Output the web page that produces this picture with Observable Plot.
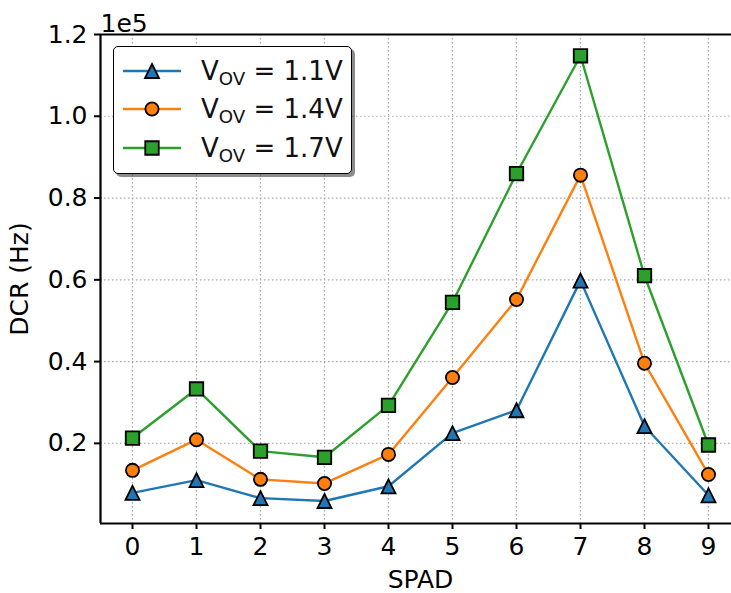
<!DOCTYPE html>
<html>
<head>
<meta charset="utf-8">
<script src="https://cdn.jsdelivr.net/npm/d3@7"></script>
<script src="https://cdn.jsdelivr.net/npm/@observablehq/plot@0.6"></script>
<style>
  html, body { margin: 0; padding: 0; background: #fff; overflow: hidden; }
  #wrap { position: relative; width: 731px; height: 593px; overflow: hidden; font-family: "DejaVu Sans", sans-serif; }
  #legend {
    position: absolute; left: 113px; top: 46px; width: 239px; height: 128px;
    box-sizing: border-box; border: 1.6px solid #000; border-radius: 5px;
    background: #fff; box-shadow: 3px 3px 0 rgba(0,0,0,0.45);
  }
  .row { position: absolute; left: 9px; height: 30px; display: flex; align-items: center; }
  .row svg { display: block; }
  .row span { margin-left: 20px; font-size: 26px; color: #111; white-space: pre; line-height: 30px; }
  .row sub { font-size: 0.7em; vertical-align: -0.3em; line-height: 0; }
</style>
</head>
<body>
<div id="wrap"><div id="legend"></div></div>
<script>
// SPAD index along the x axis
const spad = [0, 1, 2, 3, 4, 5, 6, 7, 8, 9];

// Dark count rate per SPAD, in units of 1e5 Hz
const dcr11 = [0.079, 0.110, 0.066, 0.059, 0.095, 0.225, 0.281, 0.598, 0.242, 0.073];
const dcr14 = [0.134, 0.209, 0.112, 0.102, 0.173, 0.361, 0.552, 0.856, 0.396, 0.124];
const dcr17 = [0.213, 0.333, 0.181, 0.166, 0.293, 0.545, 0.860, 1.148, 0.610, 0.196];

// Excess bias voltage of each series
const overdrive = ["1.1V", "1.4V", "1.7V"];
const colors = ["#1f77b4", "#ff7f0e", "#2ca02c"];

// Tick values
const yTicks = [0.2, 0.4, 0.6, 0.8, 1.0, 1.2];
const xTicks = spad;

// Triangle whose bounding box is centred on the point (width = height)
const triangleUp = {
  draw(context, size) {
    const h = Math.sqrt(size / Math.PI);
    context.moveTo(0, -h);
    context.lineTo(h, h);
    context.lineTo(-h, h);
    context.closePath();
  }
};
const symbols = [triangleUp, "circle", "square"];
const radii = [7.0, 6.6, 7.6];

const seriesValues = [dcr11, dcr14, dcr17];
const series = seriesValues.map((vals, k) =>
  spad.map((s, i) => ({spad: s, dcr: vals[i], k}))
);

const yDomain = [0.004, 1.2];
const xDomain = [-0.5, 9.5];

const marks = [
  Plot.gridX(xTicks, {stroke: "#aaa", strokeOpacity: 1, strokeWidth: 1.2, strokeDasharray: "1.5,2.5"}),
  Plot.gridY(yTicks, {stroke: "#aaa", strokeOpacity: 1, strokeWidth: 1.2, strokeDasharray: "1.5,2.5"})
];

series.forEach((data, k) => {
  marks.push(Plot.line(data, {x: "spad", y: "dcr", stroke: colors[k], strokeWidth: 2.4}));
  marks.push(Plot.dot(data, {
    x: "spad", y: "dcr", symbol: symbols[k], r: radii[k],
    fill: colors[k], fillOpacity: 1, stroke: "#000", strokeWidth: 1.8
  }));
});

marks.push(
  Plot.ruleX([xDomain[0]], {stroke: "#000", strokeWidth: 2.2}),
  Plot.ruleY([yDomain[0]], {stroke: "#000", strokeWidth: 2.2}),
  Plot.ruleY([yDomain[1]], {stroke: "#000", strokeWidth: 2.2}),
  Plot.axisX(xTicks, {
    tickSize: 6, tickPadding: 8, strokeWidth: 2, fontSize: 25,
    tickFormat: d => String(d),
    label: "SPAD", labelAnchor: "center", labelOffset: 64, labelArrow: "none"
  }),
  Plot.axisY(yTicks, {
    tickSize: 6, tickPadding: 7, strokeWidth: 2, fontSize: 25,
    tickFormat: d => d.toFixed(1),
    label: "DCR (Hz)", labelAnchor: "center", labelOffset: 90, labelArrow: "none"
  }),
  Plot.text(["1e5"], {
    frameAnchor: "top-left", text: d => d, textAnchor: "start",
    lineAnchor: "bottom", dy: -3, fontSize: 25, fill: "#000"
  })
);

const chart = Plot.plot({
  width: 731,
  height: 593,
  marginLeft: 100,
  marginRight: -9,
  marginTop: 34,
  marginBottom: 70,
  x: {domain: xDomain},
  y: {domain: yDomain},
  style: {fontFamily: "DejaVu Sans, sans-serif", fontSize: "25px", color: "#000", background: "#fff", overflow: "hidden"},
  marks
});
document.getElementById("wrap").prepend(chart);

// Legend
const legend = document.getElementById("legend");
const rowTops = [9, 47, 86];
overdrive.forEach((v, k) => {
  const row = document.createElement("div");
  row.className = "row";
  row.style.top = rowTops[k] + "px";
  const svg = d3.create("svg").attr("width", 58).attr("height", 30);
  svg.append("line").attr("x1", 0).attr("x2", 58).attr("y1", 15).attr("y2", 15)
    .attr("stroke", colors[k]).attr("stroke-width", 2.4);
  const type = typeof symbols[k] === "string"
    ? (symbols[k] === "circle" ? d3.symbolCircle : d3.symbolSquare)
    : symbols[k];
  svg.append("path")
    .attr("d", d3.symbol(type, Math.PI * radii[k] * radii[k])())
    .attr("transform", "translate(29,15)")
    .attr("fill", colors[k]).attr("stroke", "#000").attr("stroke-width", 1.8);
  row.appendChild(svg.node());
  const label = document.createElement("span");
  label.innerHTML = "V<sub>OV</sub> = " + v;
  row.appendChild(label);
  legend.appendChild(row);
});
</script>
</body>
</html>
